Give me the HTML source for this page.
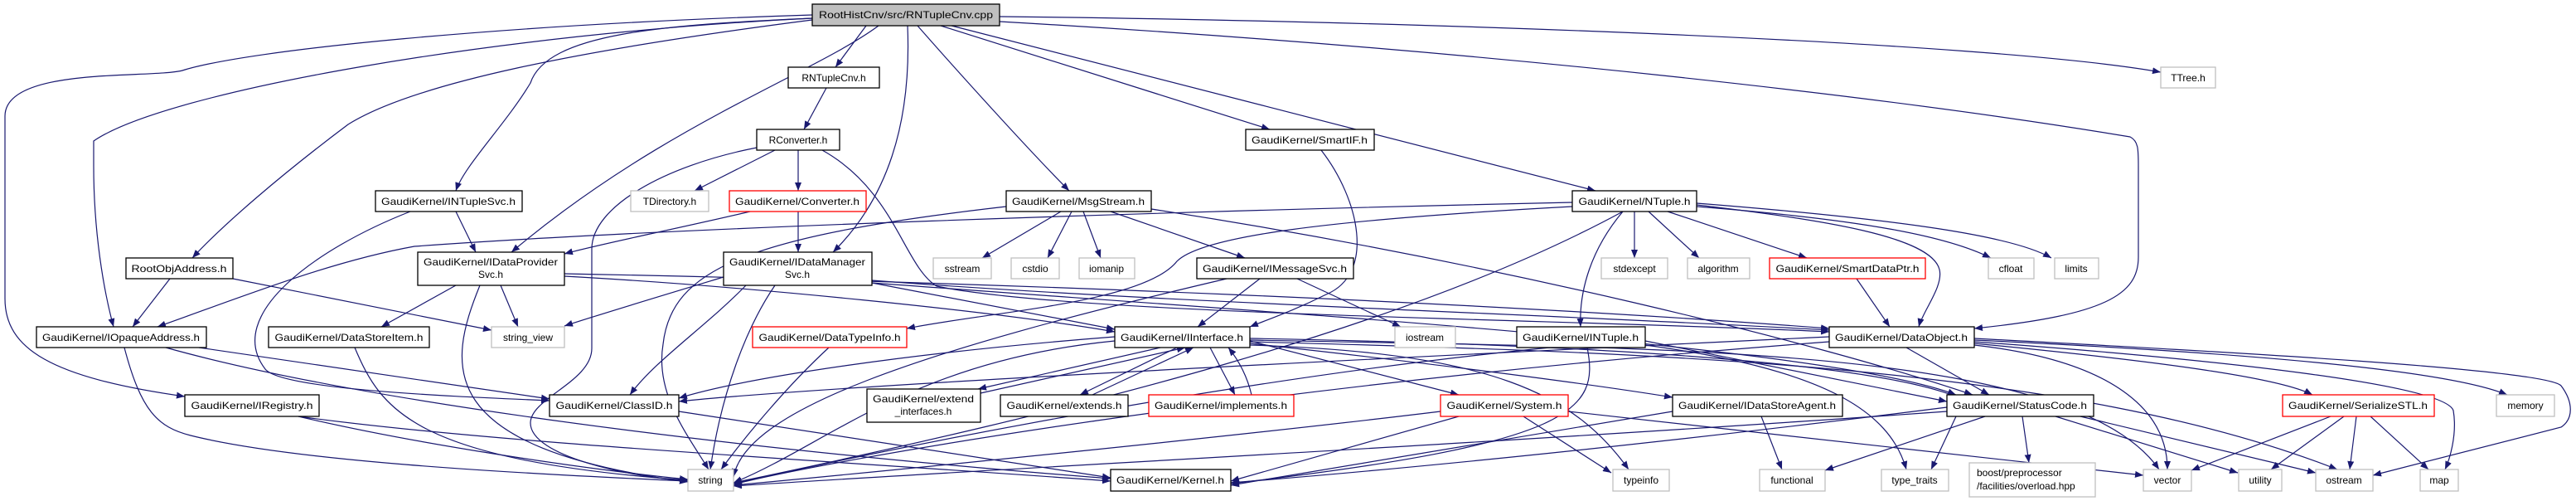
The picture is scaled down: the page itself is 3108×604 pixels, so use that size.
<!DOCTYPE html>
<html><head><meta charset="utf-8"><style>
html,body{margin:0;padding:0;background:#fff;width:3108px;height:604px;overflow:hidden}
svg{display:block}
text{font-family:"Liberation Sans",sans-serif;font-size:12px;fill:#000}
.e{fill:none;stroke:#191970;stroke-width:1.2}
.n{fill:#fff;stroke:#000;stroke-width:1.3}
.g{fill:#fff;stroke:#bfbfbf;stroke-width:1.3}
.r{fill:#fff;stroke:#ff0000;stroke-width:1.3}
</style></head><body>
<svg width="3108" height="604" viewBox="0 0 3108 604" xmlns="http://www.w3.org/2000/svg">
<defs><marker id="a" markerUnits="userSpaceOnUse" markerWidth="11" markerHeight="8" refX="10" refY="4" orient="auto"><path d="M0,0 L10,4 L0,8 z" fill="#191970"/></marker></defs>
<g class="e" marker-end="url(#a)">
<path d="M1045 31 L1008 81"/>
<path d="M1206 20 C1700 25,2400 50,2607 87"/>
<path d="M1135 31 L1532 156"/>
<path d="M1148 31 L1925 230"/>
<path d="M1107 31 C1150 80,1240 180,1290 230"/>
<path d="M1095 31 C1100 150,1070 240,1005 304"/>
<path d="M1060 31 C980 90,800 150,617 304"/>
<path d="M980 22 C800 30,660 40,640 100 C610 150,560 200,550 230"/>
<path d="M980 24 C700 60,500 100,420 150 C340 210,270 270,232 311"/>
<path d="M980 22 C600 40,200 110,113 170 L113 200 C113 280,125 350,137 394"/>
<path d="M980 18 C600 30,300 60,220 85 C180 95,6 80,6 140 L6 360 C6 420,60 455,223 478"/>
<path d="M1206 26 C1800 60,2300 120,2570 165 C2580 170,2580 180,2580 200 L2580 310 C2580 355,2540 380,2382 396"/>
<path d="M997 106 L970 156"/>
<path d="M935 181 L838 230"/>
<path d="M963 181 L963 230"/>
<path d="M913 178 C800 200,714 250,714 300 L714 420 C714 460,640 480,640 510 C640 550,760 575,830 580"/>
<path d="M905 255 C820 275,720 295,681 306"/>
<path d="M992 181 C1080 230,1090 320,1130 345 C1300 380,1900 385,2207 400"/>
<path d="M963 255 L963 304"/>
<path d="M550 255 L574 304"/>
<path d="M495 255 C380 300,270 380,320 445 C340 470,550 478,663 483"/>
<path d="M550 344 L460 394"/>
<path d="M604 344 L625 394"/>
<path d="M579 344 C540 440,520 540,830 581"/>
<path d="M681 333 C900 345,1200 375,1345 400"/>
<path d="M681 330 C1200 340,1800 365,2207 396"/>
<path d="M205 336 L160 394"/>
<path d="M281 336 L593 398"/>
<path d="M240 419 L663 481"/>
<path d="M200 419 C400 475,800 535,1340 577"/>
<path d="M150 419 C170 495,190 515,230 525 C350 555,600 570,830 580"/>
<path d="M428 419 C460 495,500 555,830 579"/>
<path d="M360 502 C500 535,700 565,830 578"/>
<path d="M360 502 C600 535,1000 555,1340 580"/>
<path d="M819 496 L1340 576"/>
<path d="M873 334 C800 356,720 380,681 393"/>
<path d="M900 344 C850 395,790 435,760 476"/>
<path d="M935 344 C900 395,870 475,857 566"/>
<path d="M1052 341 L1345 397"/>
<path d="M1052 338 C1400 365,1900 380,2207 398"/>
<path d="M1052 341 C1500 375,2200 415,2360 476"/>
<path d="M1280 255 L1185 311"/>
<path d="M1293 255 L1264 311"/>
<path d="M1307 255 L1328 311"/>
<path d="M1340 255 L1502 311"/>
<path d="M1214 249 C900 285,810 325,800 415 C790 475,830 525,855 566"/>
<path d="M1389 252 C1800 315,2200 415,2380 476"/>
<path d="M1520 336 L1445 394"/>
<path d="M1565 336 L1690 394"/>
<path d="M1480 336 C1100 425,900 495,885 575"/>
<path d="M1594 181 C1640 240,1660 330,1600 355 C1560 375,1530 385,1508 394"/>
<path d="M1972 255 L1972 311"/>
<path d="M1989 255 L2050 311"/>
<path d="M2012 255 L2180 311"/>
<path d="M2047 247 C2200 265,2330 285,2340 325 C2345 345,2320 375,2315 394"/>
<path d="M2047 249 C2250 265,2350 285,2402 311"/>
<path d="M2047 245 C2300 265,2430 285,2475 311"/>
<path d="M1958 255 C1920 300,1905 350,1907 394"/>
<path d="M1897 249 C1600 265,1450 285,1420 315 C1380 365,1200 375,1094 396"/>
<path d="M1897 244 C1400 255,800 275,500 297 C400 315,300 355,190 394"/>
<path d="M1958 255 C1700 395,1300 495,885 582"/>
<path d="M2240 336 L2280 394"/>
<path d="M1000 419 C950 465,900 525,870 566"/>
<path d="M1400 419 L1180 469"/>
<path d="M1183 474 L1430 419"/>
<path d="M1420 419 L1303 476"/>
<path d="M1318 476 L1440 419"/>
<path d="M1460 419 L1490 476"/>
<path d="M1510 476 C1505 455,1495 435,1482 419"/>
<path d="M1345 406 C1100 425,900 455,819 480"/>
<path d="M1508 411 L1760 476"/>
<path d="M1508 408 C1900 415,2250 435,2360 478"/>
<path d="M1345 411 C1100 435,1000 535,885 582"/>
<path d="M1508 416 C1800 425,1900 475,1965 566"/>
<path d="M1508 414 C1700 435,1900 460,2018 479"/>
<path d="M1508 410 C2000 420,2500 415,2605 566"/>
<path d="M1508 412 C2000 425,2500 440,2820 566"/>
<path d="M1985 411 L2349 484"/>
<path d="M1915 419 C1930 495,1900 535,1485 583"/>
<path d="M1870 419 C1500 455,1100 535,885 583"/>
<path d="M1985 416 C2200 445,2280 495,2300 566"/>
<path d="M2207 406 C1600 435,1000 465,819 484"/>
<path d="M2300 419 L2400 476"/>
<path d="M2382 414 C2600 435,2750 455,2790 476"/>
<path d="M2382 410 C2700 425,2950 445,3025 476"/>
<path d="M2382 412 C2700 435,2950 465,2960 495 C2965 525,2955 555,2950 566"/>
<path d="M2382 408 C2700 425,3070 445,3090 465 C3105 485,3105 505,3090 515 L2863 573"/>
<path d="M2207 412 C1500 465,1000 555,885 584"/>
<path d="M2382 416 C2550 435,2615 495,2615 566"/>
<path d="M1838 502 L1944 570"/>
<path d="M1760 502 L1485 580"/>
<path d="M1738 496 C1500 525,1100 565,885 585"/>
<path d="M1892 496 L2586 573"/>
<path d="M2125 502 L2150 566"/>
<path d="M2018 496 L1485 585"/>
<path d="M2440 502 L2448 558"/>
<path d="M2395 502 L2202 567"/>
<path d="M2360 502 L2330 566"/>
<path d="M2480 502 L2700 570"/>
<path d="M2510 502 L2794 570"/>
<path d="M2349 496 C1800 535,1200 565,885 586"/>
<path d="M2349 491 C2000 535,1700 565,1485 582"/>
<path d="M2812 502 L2644 567"/>
<path d="M2828 502 L2740 566"/>
<path d="M2843 502 L2835 566"/>
<path d="M2860 502 L2930 566"/>
</g>
<g>
<rect x="980" y="5" width="226" height="26" fill="#bfbfbf" stroke="#000" stroke-width="1.3"/><text x="1093" y="22" text-anchor="middle" textLength="210" lengthAdjust="spacingAndGlyphs">RootHistCnv/src/RNTupleCnv.cpp</text>
<rect class="n" x="951" y="81" width="110" height="25"/><text x="1006" y="98" text-anchor="middle">RNTupleCnv.h</text>
<rect class="g" x="2607" y="81" width="66" height="25"/><text x="2640" y="98" text-anchor="middle">TTree.h</text>
<rect class="n" x="913" y="156" width="100" height="25"/><text x="963" y="173" text-anchor="middle">RConverter.h</text>
<rect class="n" x="1503" y="156" width="155" height="25"/><text x="1580" y="173" text-anchor="middle" textLength="140" lengthAdjust="spacingAndGlyphs">GaudiKernel/SmartIF.h</text>
<rect class="n" x="453" y="230" width="177" height="25"/><text x="541" y="247" text-anchor="middle" textLength="162" lengthAdjust="spacingAndGlyphs">GaudiKernel/INTupleSvc.h</text>
<rect class="g" x="761" y="230" width="94" height="25"/><text x="808" y="247" text-anchor="middle">TDirectory.h</text>
<rect class="r" x="880" y="230" width="165" height="25"/><text x="962" y="247" text-anchor="middle" textLength="150" lengthAdjust="spacingAndGlyphs">GaudiKernel/Converter.h</text>
<rect class="n" x="1214" y="230" width="175" height="25"/><text x="1301" y="247" text-anchor="middle" textLength="160" lengthAdjust="spacingAndGlyphs">GaudiKernel/MsgStream.h</text>
<rect class="n" x="1897" y="230" width="150" height="25"/><text x="1972" y="247" text-anchor="middle" textLength="135" lengthAdjust="spacingAndGlyphs">GaudiKernel/NTuple.h</text>
<rect class="n" x="152" y="311" width="129" height="25"/><text x="216" y="328" text-anchor="middle" textLength="115" lengthAdjust="spacingAndGlyphs">RootObjAddress.h</text>
<rect class="n" x="504" y="304" width="177" height="40"/><text x="592" y="320" text-anchor="middle" textLength="162" lengthAdjust="spacingAndGlyphs">GaudiKernel/IDataProvider</text><text x="592" y="335" text-anchor="middle">Svc.h</text>
<rect class="n" x="873" y="304" width="179" height="40"/><text x="962" y="320" text-anchor="middle" textLength="164" lengthAdjust="spacingAndGlyphs">GaudiKernel/IDataManager</text><text x="962" y="335" text-anchor="middle">Svc.h</text>
<rect class="g" x="1126" y="311" width="70" height="25"/><text x="1161" y="328" text-anchor="middle">sstream</text>
<rect class="g" x="1220" y="311" width="58" height="25"/><text x="1249" y="328" text-anchor="middle">cstdio</text>
<rect class="g" x="1302" y="311" width="67" height="25"/><text x="1335" y="328" text-anchor="middle">iomanip</text>
<rect class="n" x="1444" y="311" width="189" height="25"/><text x="1538" y="328" text-anchor="middle" textLength="174" lengthAdjust="spacingAndGlyphs">GaudiKernel/IMessageSvc.h</text>
<rect class="g" x="1932" y="311" width="80" height="25"/><text x="1972" y="328" text-anchor="middle">stdexcept</text>
<rect class="g" x="2036" y="311" width="75" height="25"/><text x="2073" y="328" text-anchor="middle">algorithm</text>
<rect class="r" x="2135" y="311" width="188" height="25"/><text x="2229" y="328" text-anchor="middle" textLength="173" lengthAdjust="spacingAndGlyphs">GaudiKernel/SmartDataPtr.h</text>
<rect class="g" x="2399" y="311" width="55" height="25"/><text x="2426" y="328" text-anchor="middle">cfloat</text>
<rect class="g" x="2479" y="311" width="53" height="25"/><text x="2505" y="328" text-anchor="middle">limits</text>
<rect class="n" x="44" y="394" width="205" height="25"/><text x="146" y="411" text-anchor="middle" textLength="190" lengthAdjust="spacingAndGlyphs">GaudiKernel/IOpaqueAddress.h</text>
<rect class="n" x="324" y="394" width="194" height="25"/><text x="421" y="411" text-anchor="middle" textLength="179" lengthAdjust="spacingAndGlyphs">GaudiKernel/DataStoreItem.h</text>
<rect class="g" x="593" y="394" width="88" height="25"/><text x="637" y="411" text-anchor="middle">string_view</text>
<rect class="r" x="908" y="394" width="186" height="25"/><text x="1001" y="411" text-anchor="middle" textLength="171" lengthAdjust="spacingAndGlyphs">GaudiKernel/DataTypeInfo.h</text>
<rect class="n" x="1345" y="394" width="163" height="25"/><text x="1426" y="411" text-anchor="middle" textLength="148" lengthAdjust="spacingAndGlyphs">GaudiKernel/IInterface.h</text>
<rect class="g" x="1683" y="394" width="73" height="25"/><text x="1719" y="411" text-anchor="middle">iostream</text>
<rect class="n" x="1830" y="394" width="155" height="25"/><text x="1907" y="411" text-anchor="middle" textLength="140" lengthAdjust="spacingAndGlyphs">GaudiKernel/INTuple.h</text>
<rect class="n" x="2207" y="394" width="175" height="25"/><text x="2294" y="411" text-anchor="middle" textLength="160" lengthAdjust="spacingAndGlyphs">GaudiKernel/DataObject.h</text>
<rect class="n" x="223" y="476" width="162" height="26"/><text x="304" y="493" text-anchor="middle" textLength="147" lengthAdjust="spacingAndGlyphs">GaudiKernel/IRegistry.h</text>
<rect class="n" x="663" y="476" width="156" height="26"/><text x="741" y="493" text-anchor="middle" textLength="141" lengthAdjust="spacingAndGlyphs">GaudiKernel/ClassID.h</text>
<rect class="n" x="1046" y="469" width="137" height="40"/><text x="1114" y="485" text-anchor="middle" textLength="122" lengthAdjust="spacingAndGlyphs">GaudiKernel/extend</text><text x="1114" y="500" text-anchor="middle">_interfaces.h</text>
<rect class="n" x="1207" y="476" width="154" height="26"/><text x="1284" y="493" text-anchor="middle" textLength="139" lengthAdjust="spacingAndGlyphs">GaudiKernel/extends.h</text>
<rect class="r" x="1386" y="476" width="175" height="26"/><text x="1473" y="493" text-anchor="middle" textLength="160" lengthAdjust="spacingAndGlyphs">GaudiKernel/implements.h</text>
<rect class="r" x="1738" y="476" width="154" height="26"/><text x="1815" y="493" text-anchor="middle" textLength="139" lengthAdjust="spacingAndGlyphs">GaudiKernel/System.h</text>
<rect class="n" x="2018" y="476" width="205" height="26"/><text x="2120" y="493" text-anchor="middle" textLength="190" lengthAdjust="spacingAndGlyphs">GaudiKernel/IDataStoreAgent.h</text>
<rect class="n" x="2349" y="476" width="177" height="26"/><text x="2437" y="493" text-anchor="middle" textLength="162" lengthAdjust="spacingAndGlyphs">GaudiKernel/StatusCode.h</text>
<rect class="r" x="2754" y="476" width="183" height="26"/><text x="2845" y="493" text-anchor="middle" textLength="168" lengthAdjust="spacingAndGlyphs">GaudiKernel/SerializeSTL.h</text>
<rect class="g" x="3012" y="476" width="70" height="26"/><text x="3047" y="493" text-anchor="middle">memory</text>
<rect class="g" x="830" y="566" width="55" height="26"/><text x="857" y="583" text-anchor="middle">string</text>
<rect class="n" x="1340" y="566" width="145" height="26"/><text x="1412" y="583" text-anchor="middle" textLength="130" lengthAdjust="spacingAndGlyphs">GaudiKernel/Kernel.h</text>
<rect class="g" x="1946" y="566" width="68" height="26"/><text x="1980" y="583" text-anchor="middle">typeinfo</text>
<rect class="g" x="2123" y="566" width="79" height="26"/><text x="2162" y="583" text-anchor="middle">functional</text>
<rect class="g" x="2270" y="566" width="81" height="26"/><text x="2310" y="583" text-anchor="middle">type_traits</text>
<rect class="g" x="2376" y="558" width="152" height="41"/><text x="2385" y="574">boost/preprocessor</text><text x="2385" y="590">/facilities/overload.hpp</text>
<rect class="g" x="2586" y="566" width="58" height="26"/><text x="2615" y="583" text-anchor="middle">vector</text>
<rect class="g" x="2701" y="566" width="52" height="26"/><text x="2727" y="583" text-anchor="middle">utility</text>
<rect class="g" x="2794" y="566" width="69" height="26"/><text x="2828" y="583" text-anchor="middle">ostream</text>
<rect class="g" x="2920" y="566" width="46" height="26"/><text x="2943" y="583" text-anchor="middle">map</text>
</g>
</svg>
</body></html>
